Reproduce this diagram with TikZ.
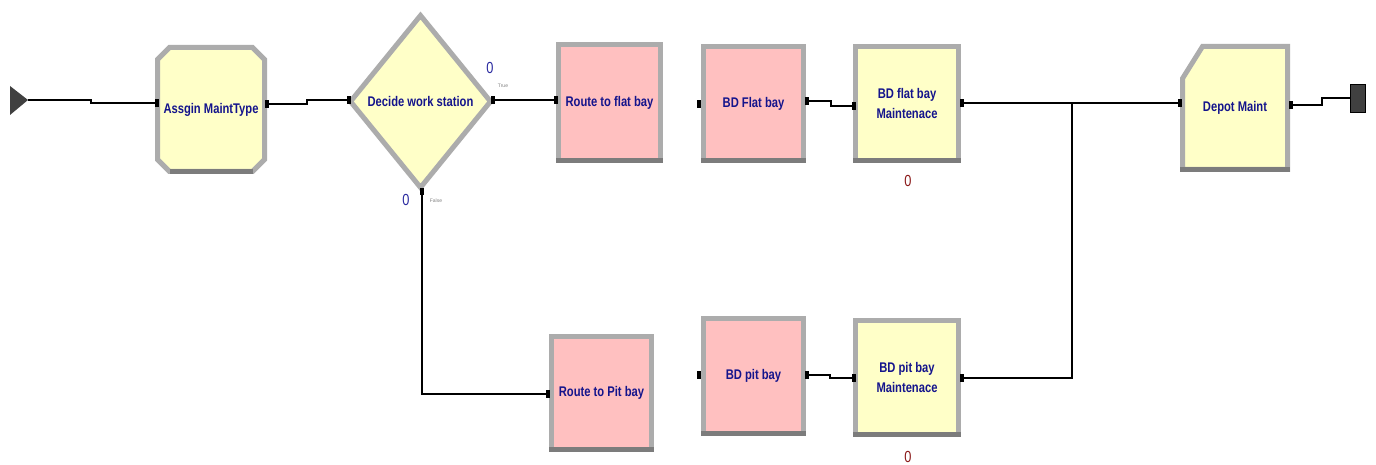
\documentclass[tikz,border=0pt]{standalone}
\usepackage{fontspec}
\setmainfont{Liberation Sans}
\newfontfamily\cond[FakeStretch=0.8]{Liberation Sans}
\usetikzlibrary{shapes.geometric,calc,backgrounds}
\definecolor{modyellow}{HTML}{FFFFC8}
\definecolor{modpink}{HTML}{FFC0C0}
\definecolor{bevel}{HTML}{ACACAC}
\definecolor{beveldark}{HTML}{7C7C7C}
\definecolor{navytext}{HTML}{14148C}
\definecolor{countblue}{HTML}{2A2AA0}
\definecolor{countred}{HTML}{8B1A1A}
\definecolor{termgray}{HTML}{404040}
\newcommand\modbottom[1]{\draw[beveldark,line width=5pt] ([xshift=-2.5pt]#1.south west) -- ([xshift=2.5pt]#1.south east);}
\begin{document}
\begin{tikzpicture}[x=1pt,y=-1pt,
  module/.style={draw=bevel, line width=5pt, outer sep=0pt, inner sep=0pt},
  shell/.style={draw=none, outer sep=0pt, inner sep=0pt},
  modtext/.style={font=\cond\bfseries\fontsize{14}{20}\selectfont, text=navytext, align=center, inner sep=0pt},
  conn/.style={draw=black, line width=2pt},
  portbox/.style={fill=black, inner sep=0pt, minimum width=4pt, minimum height=8pt},
  vportbox/.style={fill=black, inner sep=0pt, minimum width=4pt, minimum height=7pt},
  countlbl/.style={font=\cond\fontsize{16}{16}\selectfont, inner sep=0pt},
  tinylbl/.style={font=\fontsize{5}{6}\selectfont, text=gray, inner sep=0pt}]
\useasboundingbox (0,0) rectangle (1376,465);

% create
\fill[termgray] (10,86) -- (28,100) -- (10,115) -- cycle;
\coordinate (create) at (28,100);

% modules
\node[shell, minimum width=107pt, minimum height=124pt,
      label={[modtext]center:Assgin MaintType}] (assign) at (211,109.5) {};
\node[module, diamond, fill=modyellow, minimum width=140pt, minimum height=172pt,
      label={[modtext]center:Decide work station}] (decide) at (420.5,101.5) {};
\node[module, fill=modpink, minimum width=102pt, minimum height=116pt,
      label={[modtext]center:Route to flat bay}] (rflat) at (609.5,102.5) {};
\node[module, fill=modpink, minimum width=100pt, minimum height=114pt,
      label={[modtext]center:BD Flat bay}] (bdflat) at (753.5,103.5) {};
\node[module, fill=modyellow, minimum width=103pt, minimum height=114pt,
      label={[modtext]center:BD flat bay\\Maintenace}] (mflat) at (907,103.5) {};
\node[shell, minimum width=105pt, minimum height=123pt,
      label={[modtext]center:Depot Maint}] (depot) at (1235,108) {};
\node[module, fill=modpink, minimum width=100pt, minimum height=113pt,
      label={[modtext]center:Route to Pit bay}] (rpit) at (601.5,393) {};
\node[module, fill=modpink, minimum width=100pt, minimum height=115pt,
      label={[modtext]center:BD pit bay}] (bdpit) at (753.5,376) {};
\node[module, fill=modyellow, minimum width=103pt, minimum height=114pt,
      label={[modtext]center:BD pit bay\\Maintenace}] (mpit) at (907,377.5) {};
\modbottom{rflat}
\modbottom{bdflat}
\modbottom{mflat}
\modbottom{rpit}
\modbottom{bdpit}
\modbottom{mpit}

% chamfered outlines behind the text
\begin{pgfonlayer}{background}
\fill[white] (0,0) rectangle (1376,465);
\filldraw[fill=modyellow, draw=bevel, line width=5pt]
  ($(assign.north west)+(12,0)$) -- ($(assign.north east)+(-12,0)$) -- ($(assign.north east)+(0,12)$)
  -- ($(assign.south east)+(0,-12)$) -- ($(assign.south east)+(-12,0)$) -- ($(assign.south west)+(12,0)$)
  -- ($(assign.south west)+(0,-12)$) -- ($(assign.north west)+(0,12)$) -- cycle;
\draw[beveldark, line width=5pt] ($(assign.south west)+(12,0)$) -- ($(assign.south east)+(-12,0)$);
\filldraw[fill=modyellow, draw=bevel, line width=5pt]
  ($(depot.north west)+(20,0)$) -- (depot.north east) -- (depot.south east)
  -- (depot.south west) -- ($(depot.north west)+(0,32)$) -- cycle;
\draw[beveldark, line width=5pt] ([xshift=-2.5pt]depot.south west) -- ([xshift=2.5pt]depot.south east);
\end{pgfonlayer}

% dispose
\node[fill=termgray, draw=black, line width=0.8pt, minimum width=15pt, minimum height=28pt, inner sep=0pt] (dispose) at (1358,98.5) {};

% ports
\node[portbox] (assign-in) at (157,103) {};
\node[portbox] (assign-out) at (267,104) {};
\node[portbox] (decide-w) at (349,100) {};
\node[portbox] (decide-e) at (493,100) {};
\node[vportbox] (decide-s) at (422,192) {};
\node[portbox] (rflat-w) at (556,100) {};
\node[portbox] (bdflat-w) at (699,104) {};
\node[portbox] (bdflat-e) at (807,101) {};
\node[portbox] (mflat-w) at (854,106) {};
\node[portbox] (mflat-e) at (962,103.5) {};
\node[portbox] (depot-w) at (1180,103.5) {};
\node[portbox] (depot-e) at (1291,105) {};
\node[portbox] (rpit-w) at (548,394) {};
\node[portbox] (bdpit-w) at (699,375) {};
\node[portbox] (bdpit-e) at (807,375) {};
\node[portbox] (mpit-w) at (854,378) {};
\node[portbox] (mpit-e) at (962,378) {};
\coordinate (join) at (1072,103.5);

% connectors
\draw[conn] (create) -- ++(63,0) |- (assign-in.center);
\draw[conn] (assign-out.center) -- ++(40,0) |- (decide-w.center);
\draw[conn] (decide-e.center) -- (rflat-w.center);
\draw[conn] (decide-s.center) |- (rpit-w.center);
\draw[conn] (bdflat-e.center) -- ++(24,0) |- (mflat-w.center);
\draw[conn] (mflat-e.center) -- (depot-w.center);
\draw[conn] (mpit-e.center) -| (join);
\draw[conn] (depot-e.center) -- ++(31,0) |- (dispose.west);
\draw[conn] (bdpit-e.center) -- ++(23,0) |- (mpit-w.center);

% labels
\node[countlbl, text=countblue] (cnt-true) at (490,68) {0};
\node[tinylbl] (lbl-true) at (503,86) {True};
\node[countlbl, text=countblue] (cnt-false) at (406,200) {0};
\node[tinylbl] (lbl-false) at (436,201) {False};
\node[countlbl, text=countred] (cnt-mflat) at (908,181) {0};
\node[countlbl, text=countred] (cnt-mpit) at (908,457) {0};
\end{tikzpicture}
\end{document}
